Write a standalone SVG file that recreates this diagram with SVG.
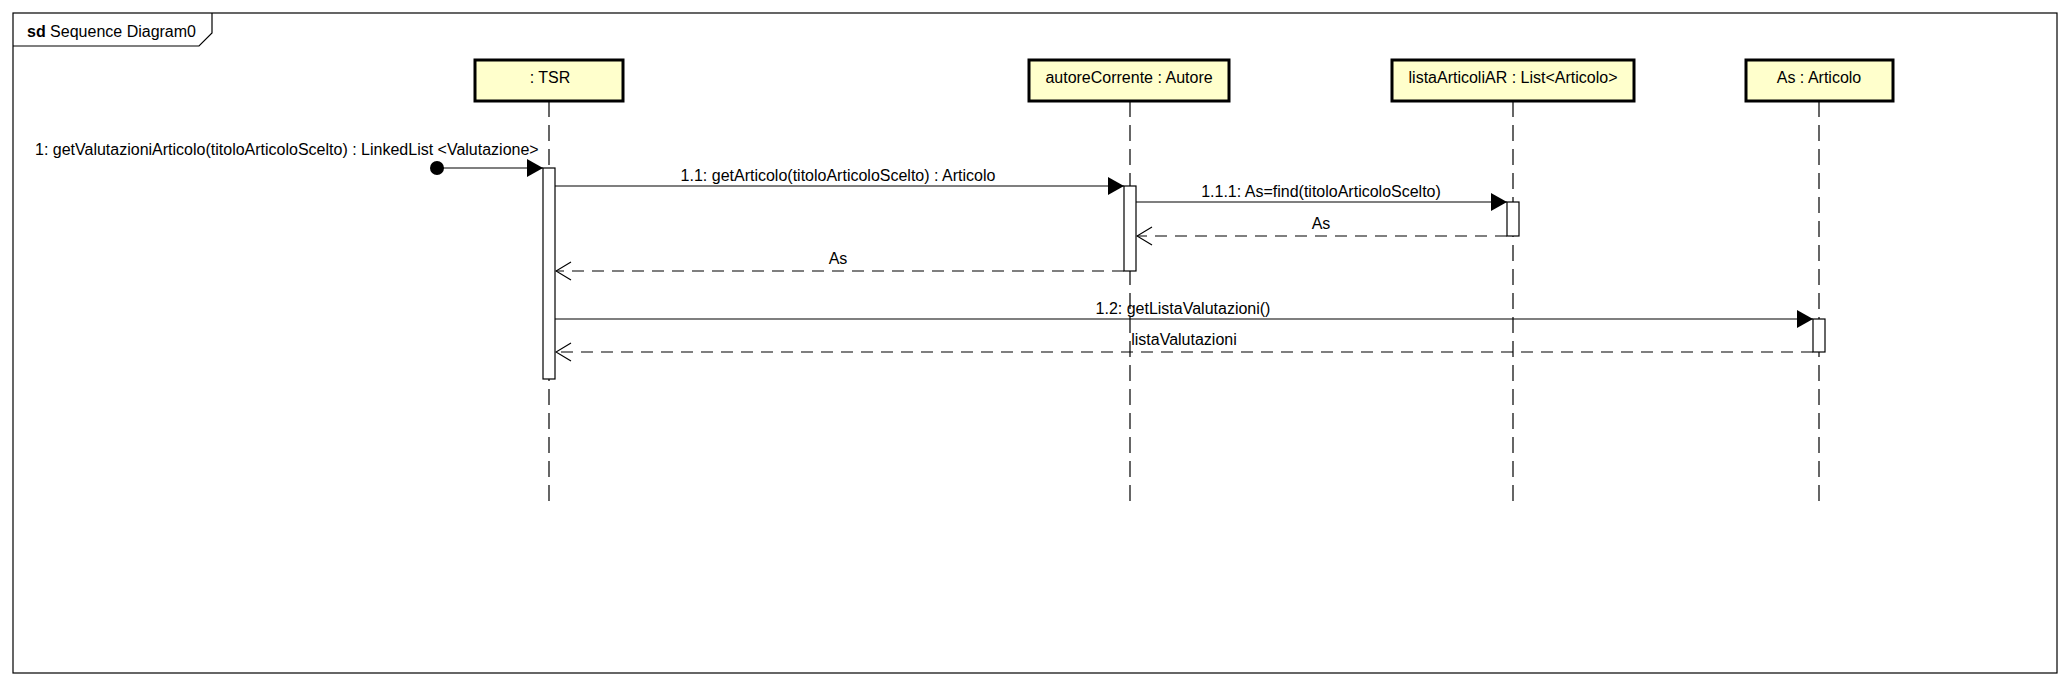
<svg xmlns="http://www.w3.org/2000/svg" width="2070" height="686" viewBox="0 0 2070 686">
<style>
text{font-family:"Liberation Sans",Arial,sans-serif;font-size:16px;fill:#000}
.box{fill:#FFFFCC;stroke:#000;stroke-width:3}
.life{stroke:#000;stroke-width:1.2;stroke-dasharray:16 8;fill:none}
.act{fill:#fff;stroke:#000;stroke-width:1.2}
.msg{stroke:#000;stroke-width:1.2;fill:none}
.ret{stroke:#000;stroke-width:1.2;fill:none;stroke-dasharray:12 8}
.c{text-anchor:middle}
</style>
<defs>
<marker id="sync" markerWidth="16" markerHeight="18" refX="16" refY="9" orient="auto" markerUnits="userSpaceOnUse">
<path d="M0,0 L16,9 L0,18 Z" fill="#000"/>
</marker>
<marker id="open" markerWidth="17" markerHeight="20" refX="16" refY="10" orient="auto" markerUnits="userSpaceOnUse">
<path d="M1,1 L16,10 L1,19" fill="none" stroke="#000" stroke-width="1.2"/>
</marker>
</defs>
<rect width="2070" height="686" fill="#fff"/>
<g id="frame">
<rect x="13" y="13" width="2044" height="660" fill="none" stroke="#000" stroke-width="1.2"/>
<path d="M13,46 L199,46 L212,33 L212,13" fill="none" stroke="#000" stroke-width="1.2"/>
<text x="27" y="37"><tspan font-weight="bold">sd</tspan> Sequence Diagram0</text>
</g>
<g id="tsr">
<line class="life" x1="549" y1="101" x2="549" y2="502"/>
<rect class="box" x="475" y="60" width="148" height="41"/>
<text class="c" x="550" y="83">: TSR</text>
<rect class="act" x="543" y="168" width="12" height="211"/>
</g>
<g id="autore">
<line class="life" x1="1130" y1="101" x2="1130" y2="502"/>
<rect class="box" x="1029" y="60" width="200" height="41"/>
<text class="c" x="1129" y="83">autoreCorrente : Autore</text>
<rect class="act" x="1124" y="186" width="12" height="85"/>
</g>
<g id="lista">
<line class="life" x1="1513" y1="101" x2="1513" y2="502"/>
<rect class="box" x="1392" y="60" width="242" height="41"/>
<text class="c" x="1513" y="83">listaArticoliAR : List&lt;Articolo&gt;</text>
<rect class="act" x="1507" y="202" width="12" height="34"/>
</g>
<g id="as">
<line class="life" x1="1819" y1="101" x2="1819" y2="502"/>
<rect class="box" x="1746" y="60" width="147" height="41"/>
<text class="c" x="1819" y="83">As : Articolo</text>
<rect class="act" x="1813" y="319" width="12" height="33"/>
</g>
<g id="connectors">
<circle cx="437" cy="168" r="7" fill="#000"/>
<line class="msg" x1="437" y1="168" x2="543" y2="168" marker-end="url(#sync)"/>
<text x="35" y="155">1: getValutazioniArticolo(titoloArticoloScelto) : LinkedList &lt;Valutazione&gt;</text>
<line class="msg" x1="555" y1="186" x2="1124" y2="186" marker-end="url(#sync)"/>
<text class="c" x="838" y="181">1.1: getArticolo(titoloArticoloScelto) : Articolo</text>
<line class="msg" x1="1136" y1="202" x2="1507" y2="202" marker-end="url(#sync)"/>
<text class="c" x="1321" y="197">1.1.1: As=find(titoloArticoloScelto)</text>
<line class="ret" x1="1507" y1="236" x2="1137" y2="236" marker-end="url(#open)"/>
<text class="c" x="1321" y="229">As</text>
<line class="ret" x1="1124" y1="271" x2="556" y2="271" marker-end="url(#open)"/>
<text class="c" x="838" y="264">As</text>
<line class="msg" x1="555" y1="319" x2="1813" y2="319" marker-end="url(#sync)"/>
<text class="c" x="1183" y="314">1.2: getListaValutazioni()</text>
<line class="ret" x1="1813" y1="352" x2="556" y2="352" marker-end="url(#open)"/>
<text class="c" x="1184" y="345">listaValutazioni</text>
</g>
</svg>
